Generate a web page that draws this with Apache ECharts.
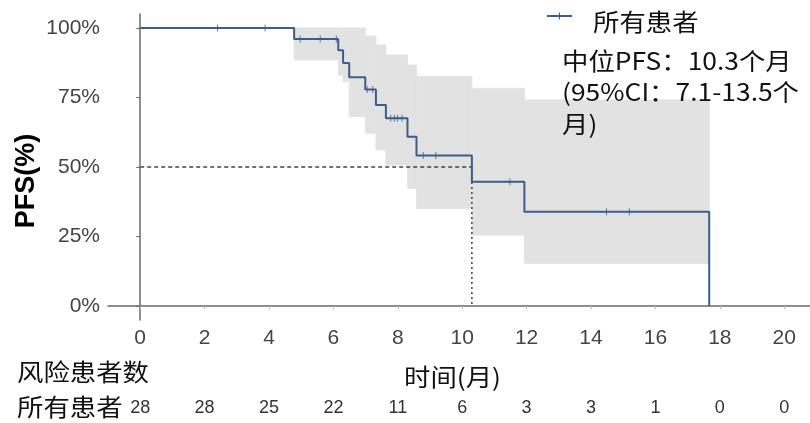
<!DOCTYPE html>
<html>
<head>
<meta charset="utf-8">
<title>PFS</title>
<script src="https://cdn.jsdelivr.net/npm/echarts@6/dist/echarts.min.js"></script>
<style>
  html, body { margin: 0; padding: 0; background: #fff; }
  #chart { width: 810px; height: 423px; }
</style>
</head>
<body>
<div id="chart"></div>
<script>
// Kaplan–Meier step curve: event times (months) and survival after each step
const eventTimes = [0, 4.78, 6.15, 6.30, 6.49, 6.99, 7.32, 7.63, 8.30, 8.58, 10.30, 11.93, 17.67];
const survival   = [1.0, 0.960, 0.920, 0.874, 0.823, 0.779, 0.723, 0.675, 0.609, 0.541, 0.447, 0.339, 0.0];

// Censored observations
const censorTimes = [2.40, 3.88, 4.97, 5.59, 6.09, 7.05, 7.22, 7.78, 7.89, 7.99, 8.13, 8.79, 9.18, 11.48, 14.48, 15.19];
const censorSurv  = [1.0, 1.0, 0.960, 0.960, 0.960, 0.779, 0.779, 0.675, 0.675, 0.675, 0.675, 0.541, 0.541, 0.447, 0.339, 0.339];

// 95% confidence band, piecewise constant between consecutive event times
const bandStart = [4.78, 6.15, 6.30, 6.49, 6.99, 7.32, 7.63, 8.30, 8.58, 10.30, 11.93];
const bandEnd   = [6.15, 6.30, 6.49, 6.99, 7.32, 7.63, 8.30, 8.58, 10.30, 11.93, 17.67];
const bandLower = [0.885, 0.830, 0.807, 0.681, 0.621, 0.561, 0.507, 0.423, 0.351, 0.255, 0.153];
const bandUpper = [1.0, 1.0, 1.0, 1.0, 0.971, 0.939, 0.903, 0.867, 0.825, 0.783, 0.741];

// Median PFS
const medianTime = 10.3;
const medianSurv = 0.5;

// Axis ticks and number-at-risk table
const timeTicks = [0, 2, 4, 6, 8, 10, 12, 14, 16, 18, 20];
const riskCounts = [28, 28, 25, 22, 11, 6, 3, 3, 1, 0, 0];
const survTicks = [0, 0.25, 0.5, 0.75, 1.0];

const lineColor = '#3c5d8c';
const bandColor = '#e3e2e3';
const axisColor = '#6a6a6a';
const latin = '"Liberation Sans", Arial, sans-serif';
const cjk = '"Noto Sans CJK SC", "Noto Sans", sans-serif';
const wide = 1.1; // horizontal stretch applied to the free-standing labels

const kmData = eventTimes.map((t, i) => [t, survival[i]]);
const censorData = censorTimes.map((t, i) => [t, censorSurv[i]]);
const bandData = bandStart.map((t, i) => [t, bandEnd[i], bandLower[i], bandUpper[i]]);

const chart = echarts.init(document.getElementById('chart'), null, { renderer: 'canvas' });

// small "+" used for censor ticks
const plusMark = 'path://M2,0L3,0L3,3L5,3L5,4L3,4L3,7L2,7L2,4L0,4L0,3L2,3Z';

// legend glyph: same "+" outline, placed in the middle of the legend line
const legendPlus = [[2, 0], [3, 0], [3, 3], [5, 3], [5, 4], [3, 4], [3, 7], [2, 7], [2, 4], [0, 4], [0, 3], [2, 3]]
  .map(p => [p[0] + 557, p[1] + 12.5]);

function label(x, y, text, size, extra) {
  return Object.assign({
    type: 'text', x: x, y: y, z: 100, scaleX: wide,
    style: { text: text, fontSize: size, fontFamily: cjk, fill: '#111', align: 'left', verticalAlign: 'middle' }
  }, extra || {});
}

chart.setOption({
  animation: false,
  backgroundColor: '#fff',
  grid: { left: 108, right: 0, top: 14, bottom: 103, containLabel: false, outerBoundsMode: 'none' },
  xAxis: [
    {
      type: 'value', min: -1, max: 20.8,
      axisLine: { show: true, lineStyle: { color: axisColor, width: 1.5 } },
      axisTick: { show: true, customValues: timeTicks, length: 3, lineStyle: { color: '#bbb' } },
      axisLabel: {
        customValues: timeTicks, fontSize: 21, color: '#444', fontFamily: latin, margin: 8
      },
      splitLine: { show: false }
    },
    {
      // number-at-risk row under the time axis
      type: 'value', min: -1, max: 20.8, position: 'bottom', offset: 79,
      axisLine: { show: false }, axisTick: { show: false }, splitLine: { show: false },
      axisLabel: {
        customValues: timeTicks,
        formatter: v => String(riskCounts[Math.round(v / 2)]),
        fontSize: 18, color: '#333', fontFamily: latin, margin: 0
      }
    }
  ],
  yAxis: {
    type: 'value', min: -0.05, max: 1.05,
    axisLine: { show: true, lineStyle: { color: axisColor, width: 1.5 } },
    axisTick: { show: true, customValues: survTicks, length: 4, lineStyle: { color: axisColor } },
    axisLabel: {
      customValues: survTicks,
      formatter: v => Math.round(v * 100) + '%',
      fontSize: 21, color: '#444', fontFamily: latin, margin: 8
    },
    splitLine: { show: false }
  },
  series: [
    {
      name: 'CI',
      type: 'custom',
      silent: true,
      z: 1,
      data: bandData,
      renderItem: (params, api) => {
        const p0 = api.coord([api.value(0), api.value(3)]);
        const p1 = api.coord([api.value(1), api.value(2)]);
        return {
          type: 'rect',
          shape: { x: p0[0], y: p0[1], width: p1[0] - p0[0], height: p1[1] - p0[1] },
          style: { fill: bandColor, stroke: bandColor, lineWidth: 0.8 }
        };
      }
    },
    {
      name: 'median-h',
      type: 'line',
      z: 2,
      data: [[0, medianSurv], [medianTime, medianSurv]],
      showSymbol: false, silent: true,
      lineStyle: { color: '#444', width: 1.3, type: [4, 3] }
    },
    {
      name: 'median-v',
      type: 'line',
      z: 2,
      data: [[medianTime, medianSurv], [medianTime, 0]],
      showSymbol: false, silent: true,
      lineStyle: { color: '#444', width: 1.5, type: [2, 3] }
    },
    {
      name: '所有患者',
      type: 'line',
      z: 3,
      step: 'end',
      data: kmData,
      showSymbol: false,
      lineStyle: { color: lineColor, width: 2 }
    },
    {
      name: 'censor',
      type: 'scatter',
      z: 4,
      data: censorData,
      symbol: plusMark,
      symbolSize: [5, 7],
      itemStyle: { color: lineColor }
    }
  ],
  graphic: [
    {
      type: 'text', x: 27, y: 181, rotation: Math.PI / 2, z: 100,
      style: { text: 'PFS(%)', fontSize: 27, fontWeight: 'bold', fontFamily: latin, fill: '#000', align: 'center', verticalAlign: 'middle' }
    },
    label(404, 377, '时间(月)', 24),
    label(17, 372, '风险患者数', 24),
    label(17, 407, '所有患者', 24),
    // legend
    {
      type: 'line', z: 100, shape: { x1: 547, y1: 16, x2: 572, y2: 16 },
      style: { stroke: lineColor, lineWidth: 2 }
    },
    {
      type: 'polygon', z: 100, shape: { points: legendPlus },
      style: { fill: lineColor }
    },
    label(593, 22, '所有患者', 24),
    label(562, 61, '中位PFS：10.3个月', 24),
    label(562, 92, '(95%CI：7.1-13.5个', 24),
    label(562, 124, '月)', 24)
  ]
});
</script>
</body>
</html>
